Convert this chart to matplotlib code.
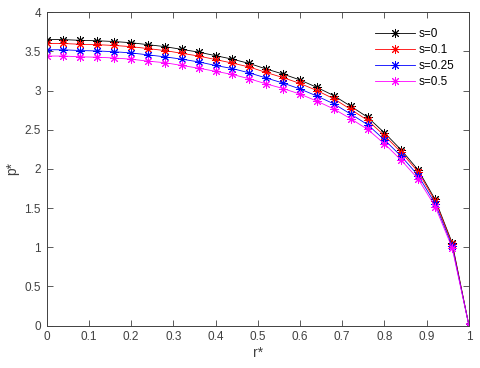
import numpy as np
import matplotlib
matplotlib.use('Agg')
import matplotlib.pyplot as plt

plt.rcParams['font.family'] = ['Liberation Sans', 'DejaVu Sans']

r = np.linspace(0, 1, 26)

p_s0 = [3.65, 3.65, 3.64, 3.635, 3.625, 3.61, 3.585, 3.56, 3.525, 3.49,
        3.445, 3.40, 3.345, 3.275, 3.21, 3.135, 3.04, 2.935, 2.80, 2.66,
        2.46, 2.24, 1.985, 1.61, 1.06, 0.0]
p_s01 = [3.60, 3.60, 3.59, 3.585, 3.575, 3.56, 3.535, 3.51, 3.475, 3.44,
         3.395, 3.35, 3.30, 3.23, 3.165, 3.09, 3.00, 2.895, 2.76, 2.62,
         2.425, 2.21, 1.96, 1.59, 1.045, 0.0]
p_s025 = [3.52, 3.52, 3.51, 3.505, 3.495, 3.48, 3.455, 3.43, 3.40, 3.365,
          3.32, 3.28, 3.225, 3.16, 3.095, 3.02, 2.93, 2.83, 2.70, 2.565,
          2.37, 2.16, 1.915, 1.555, 1.02, 0.0]
p_s05 = [3.44, 3.44, 3.43, 3.425, 3.415, 3.40, 3.375, 3.355, 3.32, 3.285,
         3.245, 3.205, 3.15, 3.085, 3.025, 2.955, 2.865, 2.765, 2.64, 2.505,
         2.32, 2.11, 1.87, 1.52, 0.995, 0.0]

labels = ['s=0', 's=0.1', 's=0.25', 's=0.5']
colors = ['black', 'red', 'blue', 'magenta']

fig = plt.figure(figsize=(4.8, 3.68), dpi=100)
ax = fig.add_axes([0.097, 0.115, 0.880, 0.852])

# matlab-style asterisk marker
for p, lab, c in zip([p_s0, p_s01, p_s025, p_s05], labels, colors):
    ax.plot(r, p, color=c, marker=(8, 2, 0), markersize=6.5, markeredgewidth=0.7,
            linewidth=0.6, label=lab)

ax.set_xlim(0, 1)
ax.set_ylim(0, 4)
ax.set_xticks(np.arange(0, 1.01, 0.1))
ax.set_xticklabels(['0', '0.1', '0.2', '0.3', '0.4', '0.5', '0.6', '0.7', '0.8', '0.9', '1'])
ax.set_yticks(np.arange(0, 4.01, 0.5))
ax.set_yticklabels(['0', '0.5', '1', '1.5', '2', '2.5', '3', '3.5', '4'])

gray = '#404040'
for s in ax.spines.values():
    s.set_color(gray)
    s.set_linewidth(0.7)
ax.tick_params(direction='in', top=True, right=True, length=4, width=0.6,
               colors=gray, labelsize=8.5, pad=4)
ax.set_xlabel('r*', fontsize=10, color=gray, labelpad=2)
ax.set_ylabel('p*', fontsize=10, color=gray, labelpad=4)

ax.legend(loc='upper left', bbox_to_anchor=(0.777, 0.95), frameon=False,
          fontsize=8.5, handlelength=3.4, handletextpad=0.3,
          labelspacing=0.35, borderpad=0, borderaxespad=0)

fig.savefig('out.png', dpi=100)
